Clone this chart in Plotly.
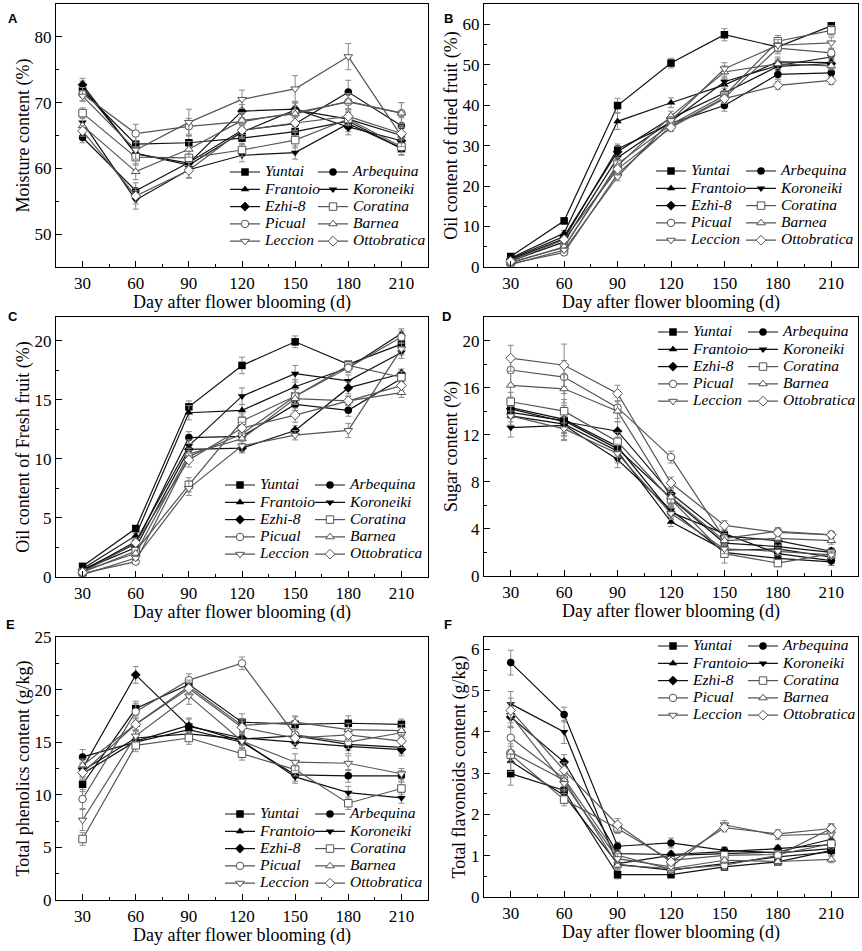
import plotly.graph_objects as go

DAYS = [30, 60, 90, 120, 150, 180, 210]
CULTIVARS = ["Yuntai", "Arbequina", "Frantoio", "Koroneiki", "Ezhi-8",
             "Coratina", "Picual", "Barnea", "Leccion", "Ottobratica"]

# A: moisture content (%)
MOISTURE = [
    [71.8, 63.7, 63.9, 64.6, 65.6, 67.2, 63.0],
    [64.7, 56.6, 60.9, 65.8, 66.8, 71.6, 66.5],
    [72.3, 62.3, 60.5, 65.5, 68.9, 67.5, 65.0],
    [67.0, 55.2, 59.8, 62.0, 62.4, 66.8, 63.1],
    [72.7, 62.2, 60.8, 68.7, 69.0, 66.3, 64.2],
    [68.4, 61.7, 61.6, 62.8, 64.3, 67.5, 63.3],
    [71.3, 65.3, 66.4, 67.1, 68.5, 70.1, 68.4],
    [66.5, 59.5, 62.9, 67.3, 68.3, 70.2, 68.4],
    [71.0, 62.8, 67.0, 70.5, 72.1, 77.0, 64.9],
    [65.7, 55.8, 59.7, 65.8, 66.9, 67.9, 65.3],
]
MOISTURE_ERR = [
    [0.8, 1.2, 1.0, 1.0, 1.2, 1.0, 1.0],
    [0.8, 1.2, 1.2, 1.2, 1.0, 1.8, 1.2],
    [1.0, 1.0, 1.0, 1.0, 1.2, 1.2, 1.2],
    [0.8, 1.4, 1.2, 1.0, 1.0, 1.2, 1.0],
    [1.0, 1.0, 1.0, 1.0, 1.2, 1.2, 1.0],
    [0.8, 1.2, 1.2, 1.0, 1.2, 1.0, 1.2],
    [1.0, 1.4, 1.2, 1.2, 1.4, 1.2, 1.6],
    [0.8, 1.2, 1.2, 1.2, 1.2, 1.2, 1.6],
    [0.8, 1.4, 2.0, 1.4, 2.0, 2.0, 1.6],
    [0.8, 1.2, 1.2, 1.0, 1.2, 1.2, 1.0],
]

# B: oil content of dried fruit (%)
OIL_DRY = [
    [2.6, 11.4, 39.9, 50.4, 57.4, 54.4, 59.6],
    [1.8, 7.0, 29.2, 35.5, 39.9, 47.6, 48.0],
    [2.2, 8.4, 36.0, 40.6, 45.0, 50.7, 50.5],
    [1.5, 6.2, 27.0, 36.0, 45.8, 49.8, 51.9],
    [2.0, 7.6, 28.5, 36.8, 43.0, 49.6, 50.3],
    [1.2, 4.8, 25.5, 35.2, 42.4, 55.8, 58.5],
    [0.8, 3.6, 23.0, 34.8, 41.8, 54.1, 52.9],
    [1.0, 5.0, 25.0, 37.3, 48.2, 50.2, 49.7],
    [0.6, 4.2, 22.3, 36.2, 49.0, 54.8, 55.4],
    [1.4, 6.8, 24.2, 34.5, 41.6, 44.9, 46.1],
]
OIL_DRY_ERR = [
    [0.4, 0.8, 1.8, 1.2, 1.5, 1.2, 0.8],
    [0.3, 0.6, 1.2, 1.0, 1.4, 1.2, 1.0],
    [0.3, 0.6, 2.0, 1.2, 1.4, 1.2, 1.0],
    [0.3, 0.5, 1.2, 1.0, 1.2, 1.2, 1.0],
    [0.3, 0.6, 1.4, 1.0, 1.2, 1.0, 1.0],
    [0.3, 0.5, 1.2, 1.0, 1.2, 1.4, 1.2],
    [0.2, 0.5, 1.0, 1.0, 1.2, 1.4, 1.2],
    [0.3, 0.5, 1.2, 1.2, 1.5, 1.2, 1.0],
    [0.2, 0.5, 1.0, 1.0, 1.5, 1.4, 1.4],
    [0.3, 0.6, 1.0, 1.0, 1.2, 1.0, 1.0],
]

# C: oil content of fresh fruit (%)
OIL_FRESH = [
    [0.9, 4.1, 14.4, 17.9, 19.9, 18.0, 19.7],
    [0.6, 2.8, 11.8, 11.9, 14.6, 14.1, 16.8],
    [0.7, 3.5, 13.9, 14.1, 16.1, 17.7, 20.6],
    [0.5, 3.0, 11.1, 15.3, 17.2, 16.6, 19.0],
    [0.6, 2.5, 10.8, 10.9, 12.4, 16.0, 17.2],
    [0.4, 2.2, 7.8, 13.2, 15.3, 17.9, 16.9],
    [0.3, 1.3, 10.2, 12.1, 15.3, 17.7, 20.3],
    [0.5, 2.0, 10.4, 11.7, 15.1, 14.9, 15.6],
    [0.2, 1.6, 7.5, 11.1, 12.0, 12.4, 19.3],
    [0.4, 2.9, 9.9, 12.6, 13.7, 14.9, 16.2],
]
OIL_FRESH_ERR = [
    [0.2, 0.2, 0.5, 0.7, 0.5, 0.3, 0.4],
    [0.1, 0.2, 0.5, 0.4, 0.5, 0.5, 0.4],
    [0.1, 0.2, 0.6, 0.5, 0.6, 0.4, 0.4],
    [0.1, 0.2, 0.5, 0.7, 0.7, 0.5, 0.5],
    [0.1, 0.2, 0.5, 0.4, 0.4, 0.5, 0.4],
    [0.1, 0.2, 0.6, 0.6, 0.6, 0.4, 0.5],
    [0.1, 0.2, 0.5, 0.5, 0.6, 0.4, 0.5],
    [0.1, 0.2, 0.5, 0.5, 0.5, 0.4, 0.4],
    [0.1, 0.2, 0.6, 0.5, 0.4, 0.6, 0.5],
    [0.1, 0.2, 0.6, 0.5, 0.6, 0.4, 0.4],
]

# D: sugar content (%)
SUGAR = [
    [13.9, 13.2, 10.8, 6.6, 2.8, 2.5, 2.0],
    [14.3, 13.3, 11.0, 5.4, 3.6, 1.9, 1.3],
    [13.6, 12.9, 10.6, 4.6, 2.2, 2.3, 1.6],
    [12.6, 12.8, 9.9, 5.6, 2.0, 1.5, 1.2],
    [14.2, 13.1, 12.3, 7.0, 3.4, 3.0, 2.1],
    [14.8, 14.0, 11.4, 6.5, 1.9, 1.1, 1.9],
    [17.5, 16.9, 14.3, 10.1, 3.2, 3.8, 3.5],
    [16.2, 15.9, 14.0, 6.7, 3.0, 3.2, 3.0],
    [13.6, 12.5, 10.4, 5.3, 2.3, 2.1, 1.8],
    [18.5, 17.9, 15.5, 7.9, 4.3, 3.7, 3.5],
]
SUGAR_ERR = [
    [0.8, 1.0, 0.8, 0.5, 0.4, 0.3, 0.3],
    [0.8, 1.2, 0.8, 0.5, 0.4, 0.3, 0.4],
    [0.8, 1.0, 0.8, 0.4, 0.4, 0.3, 0.3],
    [0.8, 1.2, 0.7, 0.5, 0.4, 0.3, 0.3],
    [0.8, 1.2, 0.8, 0.5, 0.4, 0.3, 0.3],
    [0.8, 1.0, 0.8, 0.5, 0.8, 0.3, 0.3],
    [1.2, 1.4, 0.9, 0.5, 0.4, 0.3, 0.3],
    [1.0, 1.2, 0.9, 0.5, 0.4, 0.3, 0.3],
    [0.8, 1.0, 0.8, 0.5, 0.4, 0.3, 0.3],
    [1.1, 1.8, 0.7, 0.5, 0.4, 0.3, 0.3],
]

# E: total phenolics content (g/kg)
PHENOLICS = [
    [11.0, 18.2, 20.5, 16.9, 16.7, 16.8, 16.7],
    [13.6, 15.0, 16.2, 15.0, 11.9, 11.8, 11.8],
    [12.3, 15.4, 15.8, 15.3, 15.6, 14.8, 14.5],
    [12.0, 15.1, 16.6, 15.1, 11.7, 10.2, 9.7],
    [12.5, 21.4, 16.5, 15.4, 15.0, 14.6, 14.3],
    [5.8, 14.7, 15.4, 13.9, 12.4, 9.2, 10.6],
    [9.6, 17.9, 20.9, 22.5, 15.7, 15.0, 15.9],
    [12.8, 16.7, 20.3, 16.6, 16.9, 16.2, 16.1],
    [7.6, 15.6, 19.4, 15.1, 13.1, 13.0, 12.0],
    [12.1, 16.7, 20.1, 16.4, 15.4, 15.7, 15.1],
]
PHENOLICS_ERR = [
    [0.7, 0.7, 0.6, 0.8, 0.7, 0.7, 0.5],
    [0.7, 0.6, 0.6, 0.6, 0.6, 0.6, 0.5],
    [0.6, 0.6, 0.7, 0.6, 0.6, 0.6, 0.6],
    [0.6, 0.6, 0.7, 0.6, 0.6, 0.6, 0.5],
    [0.6, 0.8, 0.7, 0.6, 0.6, 0.7, 0.6],
    [0.6, 0.6, 0.6, 0.6, 0.6, 0.6, 0.6],
    [0.9, 0.8, 0.6, 0.6, 0.6, 0.6, 0.5],
    [0.6, 0.6, 0.6, 0.6, 0.6, 0.6, 0.6],
    [1.0, 0.6, 0.8, 0.6, 0.8, 0.7, 0.5],
    [0.6, 0.6, 0.6, 0.6, 0.6, 0.6, 0.6],
]

# F: total flavonoids content (g/kg)
FLAVONOIDS = [
    [2.99, 2.58, 0.54, 0.54, 0.73, 0.85, 1.13],
    [5.68, 4.42, 1.23, 1.31, 1.13, 1.07, 1.17],
    [3.29, 2.46, 0.81, 1.01, 1.05, 1.09, 1.40],
    [4.68, 4.00, 0.79, 0.65, 0.81, 0.97, 1.09],
    [4.36, 3.27, 1.05, 1.03, 1.10, 1.17, 1.27],
    [3.45, 2.36, 1.66, 0.89, 1.01, 1.03, 1.29],
    [3.86, 2.87, 1.01, 0.67, 0.77, 1.01, 1.66],
    [3.51, 2.83, 0.77, 0.69, 0.89, 0.86, 0.91],
    [4.40, 2.75, 0.93, 0.73, 1.75, 1.49, 1.53],
    [4.52, 3.07, 1.75, 0.85, 1.68, 1.53, 1.66],
]
FLAVONOIDS_ERR = [
    [0.28, 0.15, 0.10, 0.06, 0.08, 0.06, 0.08],
    [0.30, 0.18, 0.10, 0.12, 0.08, 0.08, 0.08],
    [0.25, 0.15, 0.10, 0.08, 0.08, 0.08, 0.08],
    [0.30, 0.28, 0.10, 0.08, 0.08, 0.08, 0.08],
    [0.25, 0.18, 0.10, 0.08, 0.08, 0.08, 0.08],
    [0.20, 0.15, 0.12, 0.08, 0.08, 0.08, 0.08],
    [0.28, 0.15, 0.10, 0.08, 0.10, 0.08, 0.10],
    [0.20, 0.15, 0.10, 0.08, 0.08, 0.08, 0.08],
    [0.30, 0.18, 0.12, 0.08, 0.10, 0.10, 0.10],
    [0.30, 0.18, 0.15, 0.08, 0.10, 0.10, 0.12],
]

W, H = 862, 951
SERIF = "Liberation Serif"
SYMBOLS = ["square", "circle", "triangle-up", "triangle-down", "diamond"]
ROW_PITCH = 17.3


def px_x(v):
    return v / W


def px_y(v):
    return 1 - v / H


# letter, y title, values, errors, y range, dtick, minor dtick,
# plot box in px (left, top, right, bottom), legend line start px (left col, right col, first row y)
PANELS = [
    ("A", "Moisture content (%)", MOISTURE, MOISTURE_ERR, [45, 85], 10, 5,
     (56, 4, 428, 267), (230, 318, 172)),
    ("B", "Oil content of dried fruit (%)", OIL_DRY, OIL_DRY_ERR, [0, 65], 10, 5,
     (484, 4, 858, 267), (656, 746, 171)),
    ("C", "Oil content of Fresh fruit (%)", OIL_FRESH, OIL_FRESH_ERR, [0, 22], 5, 2.5,
     (56, 317, 428, 577), (225, 315, 485)),
    ("D", "Sugar content (%)", SUGAR, SUGAR_ERR, [0, 22], 4, 2,
     (484, 317, 858, 576), (658, 748, 332)),
    ("E", "Total phenolics content (g/kg)", PHENOLICS, PHENOLICS_ERR, [0, 25], 5, 2.5,
     (56, 637, 428, 900), (225, 315, 814)),
    ("F", "Total flavonoids content (g/kg)", FLAVONOIDS, FLAVONOIDS_ERR, [0, 6.3], 1, 0.5,
     (484, 637, 858, 897), (658, 748, 646)),
]
LETTER_POS = [(7, 12), (443, 12), (7, 310), (441, 310), (5, 618), (443, 618)]

fig = go.Figure()
layout = {}
annotations = []

for p, (letter, ytitle, values, errors, yrange, dtick, minor, box, leg) in enumerate(PANELS):
    n = "" if p == 0 else str(p + 1)
    left, top, right, bottom = box
    line_l, line_r, row_y = leg

    for i, name in enumerate(CULTIVARS):
        filled = i < 5
        edge = "#111111" if filled else "#555555"

        # every legend entry gets its own one-item legend, laid out 2 columns x 5 rows
        k = p * 10 + i + 1
        lid = "legend" if k == 1 else f"legend{k}"
        layout[lid] = dict(
            xanchor="left", yanchor="middle",
            x=px_x((line_l if i % 2 == 0 else line_r) - 5),
            y=px_y(row_y + (i // 2) * ROW_PITCH),
            bgcolor="rgba(0,0,0,0)", borderwidth=0,
            font=dict(family=SERIF, size=11, color="black"),
            itemwidth=30, tracegroupgap=0,
        )
        label = (f'<span style="font-family:{SERIF};font-size:15.5px;font-style:italic">'
                 f'{name}</span>')

        fig.add_trace(go.Scatter(
            x=DAYS, y=values[i],
            error_y=dict(type="data", array=errors[i], color="#8a8a8a", thickness=1, width=3),
            mode="lines+markers", name=label, showlegend=True,
            xaxis="x" + n, yaxis="y" + n,
            line=dict(color=edge, width=1.2),
            marker=dict(symbol=SYMBOLS[i % 5], size=7.5,
                        color="#000000" if filled else "#ffffff",
                        line=dict(color=edge, width=0 if filled else 1)),
            legend=lid,
        ))

    axis_common = dict(
        showline=True, linecolor="black", linewidth=1.2, mirror=True, automargin=False,
        ticks="inside", ticklen=6, tickcolor="black", showgrid=False, zeroline=False,
        tickfont=dict(family=SERIF, size=17, color="black"),
    )
    layout["xaxis" + n] = dict(
        axis_common, domain=[px_x(left), px_x(right)], anchor="y" + n,
        range=[15, 225], tickvals=DAYS,
        minor=dict(ticks="inside", ticklen=3, tickvals=[45, 75, 105, 135, 165, 195], tickcolor="black"),
        title=dict(text="Day after flower blooming (d)", font=dict(family=SERIF, size=18, color="black"),
                   standoff=2),
    )
    layout["yaxis" + n] = dict(
        axis_common, domain=[px_y(bottom), px_y(top)], anchor="x" + n,
        range=yrange, dtick=dtick, tick0=0,
        minor=dict(ticks="inside", ticklen=3, dtick=minor, tickcolor="black"),
        title=dict(text=ytitle, font=dict(family=SERIF, size=18, color="black"), standoff=0),
    )

    lx, ly = LETTER_POS[p]
    annotations.append(dict(
        text=f"<b>{letter}</b>", x=px_x(lx - 1), y=px_y(ly - 3),
        xref="paper", yref="paper", xanchor="left", yanchor="top", showarrow=False,
        font=dict(family="Liberation Sans", size=13, color="black"),
    ))

fig.update_layout(
    width=W, height=H,
    margin=dict(l=0, r=0, t=0, b=0),
    paper_bgcolor="white", plot_bgcolor="white",
    showlegend=True,
    annotations=annotations,
    **layout,
)

# drop the default 8px page margin so the figure fills the window exactly
fig.write_html("out.html", config={"displayModeBar": False},
               post_script="document.body.style.margin = '0';")
